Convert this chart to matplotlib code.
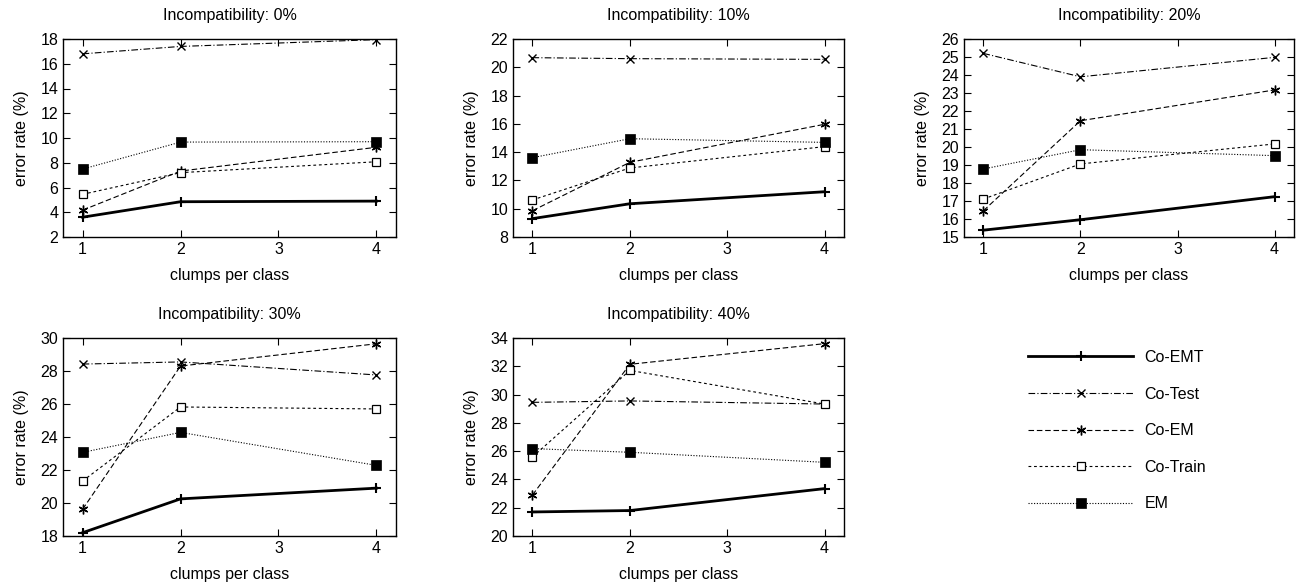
import numpy as np
import matplotlib.pyplot as plt
from matplotlib.lines import Line2D

plt.rcParams['font.family'] = ['Liberation Sans', 'DejaVu Sans']

# 数据
clumps = [1, 2, 4]
titles = ['Incompatibility: 0%', 'Incompatibility: 10%', 'Incompatibility: 20%',
          'Incompatibility: 30%', 'Incompatibility: 40%']
methods = ['Co-EMT', 'Co-Test', 'Co-EM', 'Co-Train', 'EM']

co_emt = [[3.6, 4.85, 4.9], [9.3, 10.35, 11.2], [15.38, 15.96, 17.24],
          [18.2, 20.25, 20.9], [21.7, 21.8, 23.35]]
co_test = [[16.8, 17.4, 17.95], [20.68, 20.61, 20.56], [25.2, 23.9, 24.98],
           [28.42, 28.55, 27.76], [29.45, 29.55, 29.33]]
co_em = [[4.17, 7.33, 9.25], [9.86, 13.28, 15.97], [16.46, 21.46, 23.17],
         [19.62, 28.3, 29.65], [22.9, 32.14, 33.6]]
co_train = [[5.45, 7.2, 8.08], [10.62, 12.88, 14.39], [17.11, 19.06, 20.17],
            [21.33, 25.82, 25.7], [25.59, 31.71, 29.33]]
em = [[7.49, 9.67, 9.7], [13.61, 14.95, 14.69], [18.78, 19.85, 19.52],
      [23.07, 24.28, 22.28], [26.18, 25.92, 25.21]]

ylims = [(2, 18), (8, 22), (15, 26), (18, 30), (20, 34)]
ysteps = [2, 2, 1, 2, 2]

# 样式 (gnuplot风格)
styles = [
    dict(color='black', lw=2.0, ls='-', marker='+', ms=7, mew=1.5),
    dict(color='black', lw=0.8, ls=(0, (6, 2, 1, 2)), marker='x', ms=6, mew=1.0),
    dict(color='black', lw=0.8, ls=(0, (5, 2.5)), marker=(6, 2, 0), ms=7, mew=1.0),
    dict(color='black', lw=0.8, ls=(0, (2.5, 2.5)), marker='s', ms=6, mew=0.9, mfc='white'),
    dict(color='black', lw=0.8, ls=(0, (1, 1.5)), marker='s', ms=6.5, mew=0.5),
]
all_data = [co_emt, co_test, co_em, co_train, em]

W, H = 1297, 586
fs = 11.5
fig = plt.figure(figsize=(W / 100, H / 100), dpi=100)

# 各子图位置 (像素: 左, 上, 右, 下)
boxes = [(63, 39, 396, 237), (513, 39, 844, 237), (964, 39, 1294, 237),
         (63, 338, 396, 536), (513, 338, 844, 536)]

for i, (l, t, r, b) in enumerate(boxes):
    ax = fig.add_axes([l / W, 1 - b / H, (r - l) / W, (b - t) / H])
    for data, st in zip(all_data, styles):
        ax.plot(clumps, data[i], **st)
    ax.set_xlim(0.8, 4.2)
    ax.set_ylim(*ylims[i])
    ax.set_xticks([1, 2, 3, 4])
    ax.set_yticks(np.arange(ylims[i][0], ylims[i][1] + 0.01, ysteps[i]))
    ax.tick_params(direction='in', top=True, right=True, labelsize=fs, length=5, width=0.8)
    ax.set_title(titles[i], fontsize=fs, pad=14)
    ax.set_xlabel('clumps per class', fontsize=fs, labelpad=8)
    ax.set_ylabel('error rate (%)', fontsize=fs, labelpad=8)
    for sp in ax.spines.values():
        sp.set_linewidth(1.0)

# 图例
handles = [Line2D([0], [0], **st) for st in styles]
fig.legend(handles, methods, loc='upper left', frameon=False, fontsize=fs,
           handlelength=6.6, handletextpad=0.7, labelspacing=1.35,
           borderpad=0, borderaxespad=0,
           bbox_to_anchor=(1028 / W, 1 - 350 / H), bbox_transform=fig.transFigure)

plt.savefig('out.png', dpi=100)
